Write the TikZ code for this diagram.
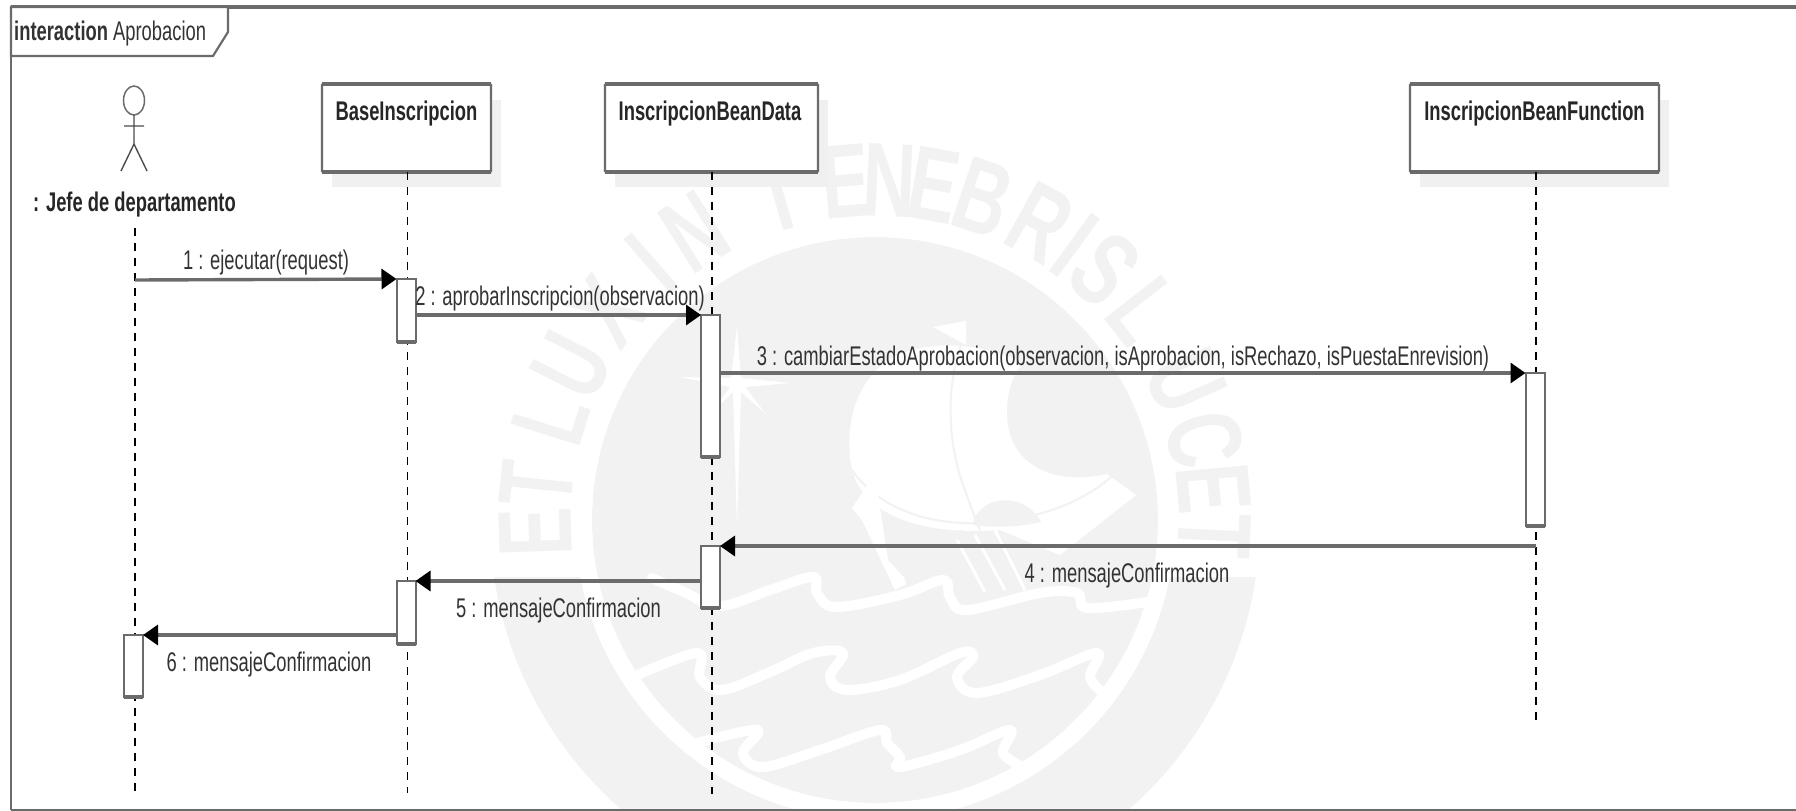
\documentclass[tikz,border=0pt]{standalone}
\usepackage{fontspec}
\usetikzlibrary{arrows.meta,shapes.geometric}
\newfontfamily\umlfont[FakeStretch=0.68]{Liberation Sans}
\newfontfamily\sealfont[FakeStretch=0.70]{Liberation Sans Bold}
\definecolor{umlline}{gray}{0.42}
\definecolor{umltext}{gray}{0.2}
\definecolor{seal}{gray}{0.95}
\definecolor{shadowc}{gray}{0.94}
\tikzset{
  x=1pt,y=-1pt,
  msg/.style={draw=umlline,line width=3.4pt,-{Triangle[length=15pt,width=20pt,color=black]}},
  lifeline/.style={draw=black,line width=1.3pt,dash pattern=on 8pt off 7pt},
  objbox/.style={draw=umlline,line width=2.2pt,fill=white,rectangle,inner sep=0pt,outer sep=0pt,minimum width=#1,minimum height=88pt,rounded corners=1pt},
  shadowbox/.style={fill=shadowc,draw=none,rectangle,inner sep=0pt,outer sep=0pt,minimum width=#1,minimum height=87pt},
  act/.style={draw=umlline,line width=2pt,fill=white,rectangle,inner sep=0pt,outer sep=0pt,minimum width=19pt,minimum height=#1},
  edge thick/.style={draw=umlline,line width=3.6pt},
  objlabel/.style={inner sep=0pt,font=\umlfont\bfseries\fontsize{27}{30}\selectfont,text=black!85},
  msglabel/.style={inner sep=0pt,font=\umlfont\fontsize{27}{30}\selectfont,text=umltext},
  sealletter/.style={inner sep=0pt,text=seal,font=\sealfont\fontsize{105}{110}\selectfont},
  wave/.style={draw=white,line width=10pt,line cap=round,line join=round},
  thinseal/.style={draw=seal,line width=2pt},
}
\begin{document}
\begin{tikzpicture}
\useasboundingbox (0,0) rectangle (1796,811);
\clip (0,0) rectangle (1796,811);
% watermark seal
\fill[seal] (875,520) circle[radius=283];
\begin{scope}
  \clip (0,577) rectangle (1796,811);
  \fill[seal,even odd rule] (875,520) circle[radius=385] (875,520) circle[radius=300];
\end{scope}
\foreach \ang/\ch [count=\i] in {182/E,174/T,162.6/L,153/U,142/X,131/I,122/N,106.5/T,95/E,87.5/N,80/E,71.4/B,61/R,54/I,47.5/S,37.9/L,24/U,13.7/C,5.4/E,-2.7/T}{
  \node[sealletter,rotate=\ang-90] (wm\i) at ({875+340*cos(\ang)},{520-340*sin(\ang)}) {\ch};
}
% crescent and sail
\fill[white] (905,352) .. controls (860,368) and (842,420) .. (852,470)
  .. controls (866,520) and (930,535) .. (1000,530) -- (1060,555) -- (1136,495) -- (1107,474)
  .. controls (1060,485) and (1010,470) .. (1007,417)
  .. controls (1006,395) and (1012,375) .. (1023,363)
  .. controls (985,345) and (945,340) .. (905,352) -- cycle;
\fill[seal] (973,525) .. controls (975,505) and (1000,495) .. (1020,503) .. controls (1030,507) and (1038,515) .. (1041,522) .. controls (1020,527) and (995,528) .. (973,525) -- cycle;
\draw[thinseal] (970,325) .. controls (945,370) and (945,440) .. (965,490) .. controls (975,520) and (985,540) .. (990,560);
\draw[thinseal] (852,470) .. controls (880,510) and (930,525) .. (980,523) .. controls (1040,520) and (1090,500) .. (1118,470);
\fill[white] (933,327) -- (966,321) -- (966,345) -- cycle;
% star
\fill[white] (737,327) -- (741,378) -- (790,383) -- (745,387) -- (766,414) -- (741,392) -- (737,527) -- (733,392) -- (712,412) -- (730,387) -- (680,377) -- (731,378) -- cycle;
% ship hull
\fill[white] (875,474) -- (888,560) -- (909,583) -- (895,590) -- (862,520) -- (852,508) -- cycle;
\fill[seal] (900,560) -- (960,530) -- (1040,560) -- (1010,600) -- (910,600) -- cycle;
\foreach \xa/\ya/\xb/\yb in {957/540/985/592,975/535/1005/590,995/530/1025/590}{
  \draw[white,line width=3pt] (\xa,\ya) -- (\xb,\yb);
}
% waves
\draw[wave] plot[smooth,tension=0.6] coordinates {(652,578) (684,592) (720,606) (770,590) (813,577) (817,593) (836,607) (900,595) (943,580) (950,597) (967,610) (1040,593) (1077,593) (1087,608) (1147,602)};
\draw[wave] plot[smooth,tension=0.6] coordinates {(633,677) (697,653) (700,677) (722,690) (770,672) (813,653) (843,653) (830,677) (847,690) (900,680) (960,653) (973,657) (957,677) (977,693) (1040,675) (1097,653) (1090,677) (1103,693)};
\draw[wave] plot[smooth,tension=0.6] coordinates {(697,743) (757,730) (743,753) (763,767) (820,750) (880,730) (887,743) (900,757) (900,767) (960,750) (1010,730) (1003,753) (1023,767)};
\draw[draw=white,line width=17pt] (875,520) circle[radius=291.5];
% frame
\draw[draw=umlline,line width=1.2pt] (11,810) -- (1796,810);
\draw[draw=umlline,line width=2pt] (11,810) -- (11,7);
\draw[draw=umlline,line width=3.5pt] (11,7) -- (1796,7);
\draw[draw=umlline,line width=2.2pt,fill=white] (11,7) -- (228,7) -- (228,32) -- (213,56) -- (11,56) -- cycle;
\node[inner sep=0pt,anchor=west,font=\umlfont\fontsize{27}{30}\selectfont,text=umltext] (frametitle) at (14,33.5) {{\bfseries interaction} Aprobacion};
% object shadows
\node[shadowbox=169pt] (sb) at (416.5,143.5) {};
\node[shadowbox=213pt] (sd) at (721.5,143.5) {};
\node[shadowbox=249pt] (sf) at (1544.5,143.5) {};
% object boxes
\node[objbox=169pt] (base) at (406.5,128) {};
\node[objbox=213pt] (data) at (711.5,128) {};
\node[objbox=249pt] (func) at (1534.5,128) {};
\foreach \b in {base,data,func}{
  \draw[edge thick] (\b.north west) -- (\b.north east);
  \draw[edge thick] (\b.south west) -- (\b.south east);
}
\node[objlabel] at (406.5,114) (baselabel) {BaseInscripcion};
\node[objlabel] at (710,114) (datalabel) {InscripcionBeanData};
\node[objlabel] at (1534.5,114) (funclabel) {InscripcionBeanFunction};
% actor
\node[draw=umlline,line width=1.5pt,ellipse,inner sep=0pt,outer sep=0pt,minimum width=21pt,minimum height=29pt] (head) at (134,100.5) {};
\coordinate (hip) at (134,144);
\coordinate (armL) at (124,126);
\coordinate (armR) at (144,126);
\coordinate (footL) at (121,171);
\coordinate (footR) at (147,171);
\draw[draw=black!70,line width=1.4pt] (head.south) -- (hip) (armL) -- (armR) (footL) -- (hip) -- (footR);
\node[objlabel] (actorlabel) at (134.5,205) {: Jefe de departamento};
\coordinate (actortop) at (135,228);
\coordinate (actorend) at (135,795);
\coordinate (baseend) at (407.5,793);
\coordinate (dataend) at (712,794);
\coordinate (funcend) at (1536,724);
\draw[lifeline] (actortop) -- (actorend);
\draw[lifeline] (base.south -| baseend) -- (baseend);
\draw[lifeline] (data.south -| dataend) -- (dataend);
\draw[lifeline] (func.south -| funcend) -- (funcend);
% activations
\node[act=63pt] (a1) at (406,310.5) {};
\node[act=142pt] (a2) at (710.5,386) {};
\node[act=153pt] (a3) at (1535,449.5) {};
\node[act=62pt] (a4) at (710.5,577) {};
\node[act=63pt] (a5) at (406,612.5) {};
\node[act=62pt] (a6) at (133.5,666) {};
\foreach \b in {a1,a2,a3,a4,a5,a6}{
  \draw[edge thick] (\b.south west) -- (\b.south east);
}
% messages
\coordinate (m1s) at (135,280);
\coordinate (m2s) at (415.5,315);
\coordinate (m3s) at (720,373);
\coordinate (m4s) at (1536,546);
\coordinate (m5s) at (701,581);
\coordinate (m6s) at (396.5,635);
\draw[msg] (m1s) -- (a1.north west);
\draw[msg] (m2s) -- (a2.north west);
\draw[msg] (m3s) -- (a3.north west);
\draw[msg] (m4s) -- (a4.north east);
\draw[msg] (m5s) -- (a5.north east);
\draw[msg] (m6s) -- (a6.north east);
\node[msglabel] (l1) at (266,263) {1 : ejecutar(request)};
\node[msglabel] (l2) at (560,299) {2 : aprobarInscripcion(observacion)};
\node[msglabel] (l3) at (1123,359) {3 : cambiarEstadoAprobacion(observacion, isAprobacion, isRechazo, isPuestaEnrevision)};
\node[msglabel] (l4) at (1127,576) {4 : mensajeConfirmacion};
\node[msglabel] (l5) at (558.5,611) {5 : mensajeConfirmacion};
\node[msglabel] (l6) at (269,665) {6 : mensajeConfirmacion};
\end{tikzpicture}
\end{document}
